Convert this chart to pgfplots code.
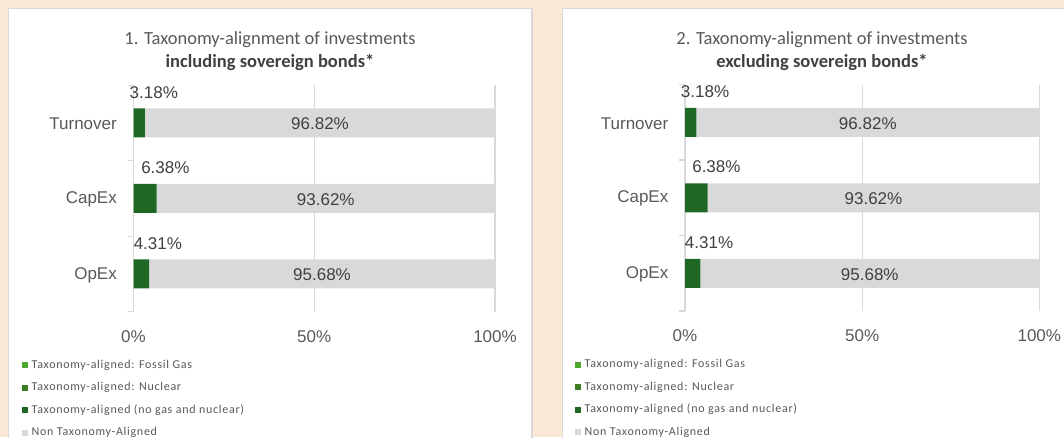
\documentclass[border=0pt]{standalone}
\usepackage{pgfplots}
\pgfplotsset{compat=1.18}
\usepackage{pgfplotstable}
\usepackage{fontspec}
\setmainfont{Liberation Sans}
\newfontfamily\calfont{Carlito}
\newfontfamily\calspfont{Carlito}[LetterSpace=6]
\definecolor{bgpeach}{RGB}{251,233,216}
\definecolor{cgrid}{RGB}{217,217,217}
\definecolor{cgray}{RGB}{217,217,217}
\definecolor{cdark}{RGB}{30,104,36}
\definecolor{cnuc}{RGB}{59,125,35}
\definecolor{cgas}{RGB}{78,167,46}
\definecolor{ctext}{RGB}{89,89,89}
\definecolor{clabel}{RGB}{64,64,64}

\pgfplotstableread{
y g n
3 3.18 96.82
2 6.38 93.62
1 4.31 95.68
}\dataA
\pgfplotstableread{
y g n
3 3.18 96.82
2 6.38 93.62
1 4.31 95.68
}\dataB

\newcommand{\axfont}{\fontsize{17}{20}\selectfont}
\newcommand{\legfont}{\calspfont\fontsize{12}{14}\selectfont}

\pgfplotsset{
  panel/.style={
    scale only axis, xbar stacked, bar width=29pt,
    height=226.5pt,
    xmin=0, xmax=100, ymin=0.5, ymax=3.5,
    clip=false,
    axis lines*=left,
    x axis line style={draw=none},
    y axis line style={draw=cgrid, line width=1.3pt},
    xtick={0,50,100}, xticklabels={0\%,50\%,100\%},
    ytick={1,2,3}, yticklabels={OpEx,CapEx,Turnover},
    minor ytick={0.5,1.5,2.5,3.5},
    major tick length=0pt, minor tick length=6pt, tick align=outside,
    major tick style={draw=none},
    minor tick style={draw=cgrid, line width=1.3pt},
    xmajorgrids, major grid style={draw=cgrid, line width=1.3pt},
    /pgf/number format/assume math mode=true,
    tick label style={font=\axfont, text=ctext, inner sep=0pt},
    xticklabel style={anchor=base, yshift=-30.6pt},
    yticklabel style={anchor=east, xshift=-16.5pt, yshift=-1pt},
    legend image code/.code={\fill[##1, draw=none] (0pt,-3pt) rectangle (6pt,3pt); \path (8.5pt,0pt);},
    legend cell align=left,
    legend style={draw=none, fill=none, anchor=north west, inner sep=0pt,
      font=\legfont, text=ctext, row sep=8.5pt,
      nodes={inner sep=1pt, text height=9pt, text depth=3pt}},
  },
  greenlab/.style={point meta=\thisrow{g},
    visualization depends on={\thisrow{g}\as\gval},
    nodes near coords={\pgfmathprintnumber[fixed,fixed zerofill,precision=2]{\pgfplotspointmeta}\%},
    every node near coord/.append style={anchor=base west, inner sep=0pt, xshift={#1*\gval*1pt-15.5pt}, yshift=24.8pt, font=\axfont, text=clabel}},
  graylab/.style={point meta=\thisrow{n},
    nodes near coords={\pgfmathprintnumber[fixed,fixed zerofill,precision=2]{\pgfplotspointmeta}\%},
    every node near coord/.append style={anchor=center, inner sep=0pt, yshift=-1pt, font=\axfont, text=clabel}},
}

\begin{document}
\begin{tikzpicture}
\useasboundingbox (0,0) rectangle (1064pt,437pt);
\fill[bgpeach] (0,0) rectangle (1064pt,437pt);
\filldraw[fill=white, draw=cgrid, line width=1.5pt] (8.6pt,-5pt) rectangle (532pt,428.4pt);
\filldraw[fill=white, draw=cgrid, line width=1.5pt] (562.7pt,-5pt) rectangle (1085pt,428.7pt);

\node[font=\calfont\fontsize{18.5}{22}\selectfont, text=ctext, anchor=base] at (270pt,392pt) {1. Taxonomy-alignment of investments};
\node[font=\calfont\bfseries\fontsize{18.5}{22}\selectfont, text=clabel, anchor=base] at (270pt,369.5pt) {including sovereign bonds*};
\node[font=\calfont\fontsize{18.5}{22}\selectfont, text=ctext, anchor=base] at (822pt,392pt) {2. Taxonomy-alignment of investments};
\node[font=\calfont\bfseries\fontsize{18.5}{22}\selectfont, text=clabel, anchor=base] at (822pt,369.5pt) {excluding sovereign bonds*};

\begin{axis}[panel, width=361.5pt, at={(133.5pt,125.3pt)}, anchor=south west,
  legend style={at={(axis description cs:-0.3084,-0.205)}}]
\addplot[fill=cgas, draw=none] coordinates {(0,3) (0,2) (0,1)};
\addlegendentry{Taxonomy-aligned: Fossil Gas}
\addplot[fill=cnuc, draw=none] coordinates {(0,3) (0,2) (0,1)};
\addlegendentry{Taxonomy-aligned: Nuclear}
\addplot[fill=cdark, draw=none, greenlab=1.8075] table[x=g, y=y] {\dataA};
\addlegendentry{Taxonomy-aligned (no gas and nuclear)}
\addplot[fill=cgray, draw=none, graylab] table[x=n, y=y] {\dataA};
\addlegendentry{Non Taxonomy-Aligned}
\end{axis}

\begin{axis}[panel, width=354.3pt, at={(685pt,126pt)}, anchor=south west,
  legend style={at={(axis description cs:-0.3105,-0.205)}}]
\addplot[fill=cgas, draw=none] coordinates {(0,3) (0,2) (0,1)};
\addlegendentry{Taxonomy-aligned: Fossil Gas}
\addplot[fill=cnuc, draw=none] coordinates {(0,3) (0,2) (0,1)};
\addlegendentry{Taxonomy-aligned: Nuclear}
\addplot[fill=cdark, draw=none, greenlab=1.7715] table[x=g, y=y] {\dataB};
\addlegendentry{Taxonomy-aligned (no gas and nuclear)}
\addplot[fill=cgray, draw=none, graylab] table[x=n, y=y] {\dataB};
\addlegendentry{Non Taxonomy-Aligned}
\end{axis}
\end{tikzpicture}
\end{document}
